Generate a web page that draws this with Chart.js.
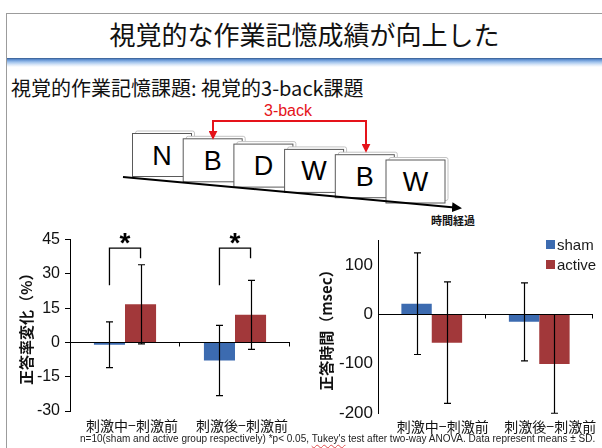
<!DOCTYPE html>
<html lang="ja">
<head>
<meta charset="utf-8">
<title>視覚的な作業記憶成績が向上した</title>
<script src="https://cdn.jsdelivr.net/npm/chart.js@4.4.1/dist/chart.umd.min.js"></script>
<style>
  html, body { margin:0; padding:0; background:#fff; }
  body { position:relative; width:602px; height:448px; overflow:hidden;
         font-family:"Noto Sans CJK JP","Liberation Sans",sans-serif; color:#111; }
  .frame-top { position:absolute; left:6px; top:13px; width:596px; border-top:1px solid #9c9c9c; }
  .frame-left { position:absolute; left:6px; top:13px; height:435px; border-left:1px solid #9c9c9c; }
  .title { position:absolute; left:7px; right:0; top:12px; height:44px; line-height:44px;
           text-align:center; font-size:26px; white-space:nowrap; }
  .band { position:absolute; left:7px; right:0; top:58px; height:9px;
          background:linear-gradient(to bottom,#35588a 0,#5e8fd0 18%,#9fc2ec 45%,#dbe8f8 75%,#fff 100%); }
  .subtitle { position:absolute; left:11px; top:75px; font-size:20px; line-height:26px; white-space:nowrap; }
  #task { position:absolute; left:0; top:0; }
  canvas { position:absolute; }
  #accChart { left:0; top:225px; }
  #rtChart { left:300px; top:225px; }
  .legend { position:absolute; left:546px; top:236px;
            font-family:"Liberation Sans",Arial,sans-serif; font-size:15px; color:#1a1a1a; }
  .legend .row { position:absolute; left:0; height:17px; line-height:17px; white-space:nowrap; }
  .legend .sw { position:absolute; left:0; top:4px; width:9px; height:9px; }
  .legend .tx { position:absolute; left:11px; top:0; }
  .note { position:absolute; left:80px; top:433px; white-space:nowrap;
          font-family:"Liberation Sans",Arial,sans-serif; font-size:9.5px; color:#222; }
  .note u { text-decoration: underline wavy #e25050 1px; text-underline-offset:2px; }
</style>
</head>
<body>
<div class="frame-top"></div>
<div class="frame-left"></div>
<div class="title">視覚的な作業記憶成績が向上した</div>
<div class="band"></div>
<div class="subtitle">視覚的作業記憶課題: 視覚的3-back課題</div>

<svg id="task" width="602" height="232" xmlns="http://www.w3.org/2000/svg">
  <defs>
    <marker id="blackHead" viewBox="0 0 10 10" refX="8" refY="5" markerWidth="5" markerHeight="5" orient="auto">
      <path d="M0,0 L10,5 L0,10 z" fill="#000"/>
    </marker>
    <marker id="redHead" viewBox="0 0 10 10" refX="8" refY="5" markerWidth="4.5" markerHeight="4.5" orient="auto-start-reverse">
      <path d="M0,0 L10,5 L0,10 z" fill="#e5131a"/>
    </marker>
  </defs>
  <g id="cards"></g>
  <line x1="123" y1="177" x2="460" y2="208" stroke="#000" stroke-width="2" marker-end="url(#blackHead)"/>
  <path d="M213,138 L213,121 L366,121 L366,151" fill="none" stroke="#e5131a" stroke-width="2"
        marker-start="url(#redHead)" marker-end="url(#redHead)"/>
  <text x="288" y="116" text-anchor="middle" fill="#e5131a"
        font-family="Liberation Sans, Arial, sans-serif" font-size="16">3-back</text>
  <text x="453" y="225" text-anchor="middle" fill="#111" font-weight="bold"
        font-family="Noto Sans CJK JP, sans-serif" font-size="11">時間経過</text>
</svg>

<canvas id="accChart" width="300" height="223"></canvas>
<canvas id="rtChart" width="302" height="223"></canvas>
<div class="legend" id="legend"></div>
<div class="note" id="note">n=10(sham and active group respectively) *p&lt; 0.05, <u>Tukey's</u> test after two-way ANOVA. Data represent means ± SD.</div>

<script>
// ---- data ----
const stimulusLetters = ['N', 'B', 'D', 'W', 'B', 'W'];
const categories = ['刺激中−刺激前', '刺激後−刺激前'];
const seriesNames = ['sham', 'active'];

// accuracy change (%), mean and SD
const accuracyShamMean = [-1.0, -7.9];
const accuracyShamSD = [10.0, 15.4];
const accuracyActiveMean = [16.7, 12.1];
const accuracyActiveSD = [17.3, 15.1];
const accuracyTickValues = [-30, -15, 0, 15, 30, 45];

// reaction time change (msec), mean and SD
const rtShamMean = [21.5, -15.4];
const rtShamSD = [103, 79];
const rtActiveMean = [-57.5, -100.5];
const rtActiveSD = [123, 100];
const rtTickValues = [-200, -100, 0, 100];

// significant sham vs active comparisons (category indices)
const significantCategories = [0, 1];

const shamColor = '#3c6bb0';
const activeColor = '#a2383a';
const seriesColors = [shamColor, activeColor];

// ---- task diagram: stacked letter cards along a time line ----
(function drawCards() {
  const g = document.getElementById('cards');
  const NS = 'http://www.w3.org/2000/svg';
  stimulusLetters.forEach((ch, i) => {
    const x = 132.5 + 50.7 * i, y = 133.5 + 5.3 * i, w = 59, h = 43;
    const back = document.createElementNS(NS, 'rect');
    back.setAttribute('x', x + 3); back.setAttribute('y', y - 2.5);
    back.setAttribute('width', w); back.setAttribute('height', h); back.setAttribute('rx', 2);
    back.setAttribute('fill', '#fff'); back.setAttribute('stroke', '#c4c4c4'); back.setAttribute('stroke-width', 1);
    g.appendChild(back);
    const front = document.createElementNS(NS, 'rect');
    front.setAttribute('x', x); front.setAttribute('y', y);
    front.setAttribute('width', w); front.setAttribute('height', h);
    front.setAttribute('fill', '#fff'); front.setAttribute('stroke', '#5a5a5a'); front.setAttribute('stroke-width', 1);
    g.appendChild(front);
    const t = document.createElementNS(NS, 'text');
    t.setAttribute('x', x + w / 2); t.setAttribute('y', y + h / 2 + 9.5);
    t.setAttribute('text-anchor', 'middle'); t.setAttribute('font-size', 27);
    t.setAttribute('font-family', 'Liberation Sans, Arial, sans-serif');
    t.textContent = ch;
    g.appendChild(t);
  });
})();

// ---- legend ----
(function buildLegend() {
  const box = document.getElementById('legend');
  seriesNames.forEach((name, k) => {
    const row = document.createElement('div');
    row.className = 'row';
    row.style.top = (k * 20) + 'px';
    row.innerHTML = '<span class="sw" style="background:' + seriesColors[k] + '"></span><span class="tx">' + name + '</span>';
    box.appendChild(row);
  });
})();

// ---- footnote width ----
(function fitNote() {
  const note = document.getElementById('note');
  const w = note.getBoundingClientRect().width;
  note.style.fontSize = (9.5 * 516 / w).toFixed(2) + 'px';
})();

// ---- Chart.js plugins ----
const zeroAxisPlugin = {
  id: 'zeroAxis',
  afterDatasetsDraw(chart) {
    const { ctx, chartArea: { left, right }, scales: { y } } = chart;
    const y0 = Math.round(y.getPixelForValue(0)) + 0.5;
    const n = chart.data.labels.length;
    const step = (right - left) / n;
    ctx.save();
    ctx.strokeStyle = '#000';
    ctx.lineWidth = 1;
    ctx.beginPath();
    ctx.moveTo(left, y0);
    ctx.lineTo(right, y0);
    for (let i = 1; i <= n; i++) {
      const bx = Math.round(left + step * i) - 0.5;
      ctx.moveTo(bx, y0);
      ctx.lineTo(bx, y0 + 4);
    }
    ctx.stroke();
    ctx.restore();
  }
};

const errorBarPlugin = {
  id: 'errorBars',
  afterDatasetsDraw(chart) {
    const { ctx, chartArea, scales: { y } } = chart;
    ctx.save();
    ctx.beginPath();
    ctx.rect(chartArea.left, chartArea.top - 1, chartArea.width, chartArea.height + 2);
    ctx.clip();
    ctx.strokeStyle = '#000';
    ctx.lineWidth = 1.2;
    chart.data.datasets.forEach((ds, di) => {
      chart.getDatasetMeta(di).data.forEach((bar, i) => {
        const m = ds.data[i], sd = ds.errors[i];
        const yt = y.getPixelForValue(m + sd), yb = y.getPixelForValue(m - sd);
        const x = Math.round(bar.x) + 0.5, cap = 3.5;
        ctx.beginPath();
        ctx.moveTo(x, yt); ctx.lineTo(x, yb);
        ctx.moveTo(x - cap, yt); ctx.lineTo(x + cap, yt);
        ctx.moveTo(x - cap, yb); ctx.lineTo(x + cap, yb);
        ctx.stroke();
      });
    });
    ctx.restore();
  }
};

const sigBracketPlugin = {
  id: 'sigBrackets',
  afterDatasetsDraw(chart, args, opts) {
    if (!opts.categories) return;
    const { ctx, scales: { y } } = chart;
    const a = chart.getDatasetMeta(0).data, b = chart.getDatasetMeta(1).data;
    ctx.save();
    ctx.strokeStyle = '#000';
    ctx.lineWidth = 1.3;
    ctx.fillStyle = '#000';
    ctx.font = 'bold 28px "Liberation Sans", Arial, sans-serif';
    ctx.textAlign = 'center';
    ctx.textBaseline = 'alphabetic';
    const mt = ctx.measureText('*');
    const centerShift = (mt.actualBoundingBoxAscent - mt.actualBoundingBoxDescent) / 2;
    opts.categories.forEach(i => {
      const xl = a[i].x, xr = b[i].x;
      const yTop = y.getPixelForValue(opts.top);
      ctx.beginPath();
      ctx.moveTo(xl, y.getPixelForValue(opts.leftEnd));
      ctx.lineTo(xl, yTop);
      ctx.lineTo(xr, yTop);
      ctx.lineTo(xr, y.getPixelForValue(opts.rightEnd));
      ctx.stroke();
      ctx.fillText('*', (xl + xr) / 2, yTop - 10 + centerShift);
    });
    ctx.restore();
  }
};

Chart.defaults.font.family = '"Liberation Sans", Arial, sans-serif';
Chart.defaults.color = '#111';

function buildChart(canvasId, cfg) {
  return new Chart(document.getElementById(canvasId), {
    type: 'bar',
    data: {
      labels: categories,
      datasets: [
        { label: seriesNames[0], data: cfg.shamMean, errors: cfg.shamSD, backgroundColor: shamColor, borderWidth: 0 },
        { label: seriesNames[1], data: cfg.activeMean, errors: cfg.activeSD, backgroundColor: activeColor, borderWidth: 0 }
      ]
    },
    options: {
      responsive: false,
      animation: false,
      devicePixelRatio: 1,
      layout: { padding: { top: cfg.padTop, right: cfg.padRight, bottom: 0, left: 0 } },
      datasets: { bar: { categoryPercentage: 0.565, barPercentage: 1.0 } },
      plugins: {
        legend: { display: false },
        tooltip: { enabled: false },
        sigBrackets: cfg.brackets || {}
      },
      scales: {
        x: {
          grid: { display: false, drawTicks: false },
          border: { display: false },
          ticks: {
            padding: cfg.xPad,
            labelOffset: cfg.labelOffset,
            maxRotation: 0,
            font: { family: '"Noto Sans CJK JP", sans-serif', size: 14 },
            color: '#111'
          },
          afterFit(s) { s.height = cfg.xHeight; }
        },
        y: {
          min: cfg.min,
          max: cfg.max,
          afterBuildTicks(s) { s.ticks = cfg.tickValues.map(v => ({ value: v })); },
          grid: cfg.yTicks
            ? { drawOnChartArea: false, drawTicks: true, tickLength: 5, color: '#000' }
            : { display: false, drawTicks: false },
          border: { display: true, color: '#000', width: 1 },
          ticks: { padding: 5, font: { size: cfg.tickSize }, color: '#111' },
          title: {
            display: true,
            text: cfg.title,
            font: { family: '"Noto Sans CJK JP", sans-serif', size: 15, weight: 'bold' },
            color: '#111',
            padding: { top: 17, bottom: 0 }
          },
          afterFit(s) { s.width = cfg.yWidth; }
        }
      }
    },
    plugins: [zeroAxisPlugin, errorBarPlugin, sigBracketPlugin]
  });
}

buildChart('accChart', {
  shamMean: accuracyShamMean, shamSD: accuracyShamSD,
  activeMean: accuracyActiveMean, activeSD: accuracyActiveSD,
  min: -30, max: 45, tickValues: accuracyTickValues,
  title: '正答率変化（%）',
  padTop: 14, padRight: 10, xHeight: 37, yWidth: 70,
  xPad: 6, labelOffset: 7, yTicks: true, tickSize: 16,
  brackets: { categories: significantCategories, top: 41.3, leftEnd: 25, rightEnd: 36.8 }
});

buildChart('rtChart', {
  shamMean: rtShamMean, shamSD: rtShamSD,
  activeMean: rtActiveMean, activeSD: rtActiveSD,
  min: -200, max: 150, tickValues: rtTickValues,
  title: '正答時間（msec）',
  padTop: 10, padRight: 9, xHeight: 35, yWidth: 78,
  xPad: 5, labelOffset: 11, yTicks: false, tickSize: 17
});
</script>
</body>
</html>
